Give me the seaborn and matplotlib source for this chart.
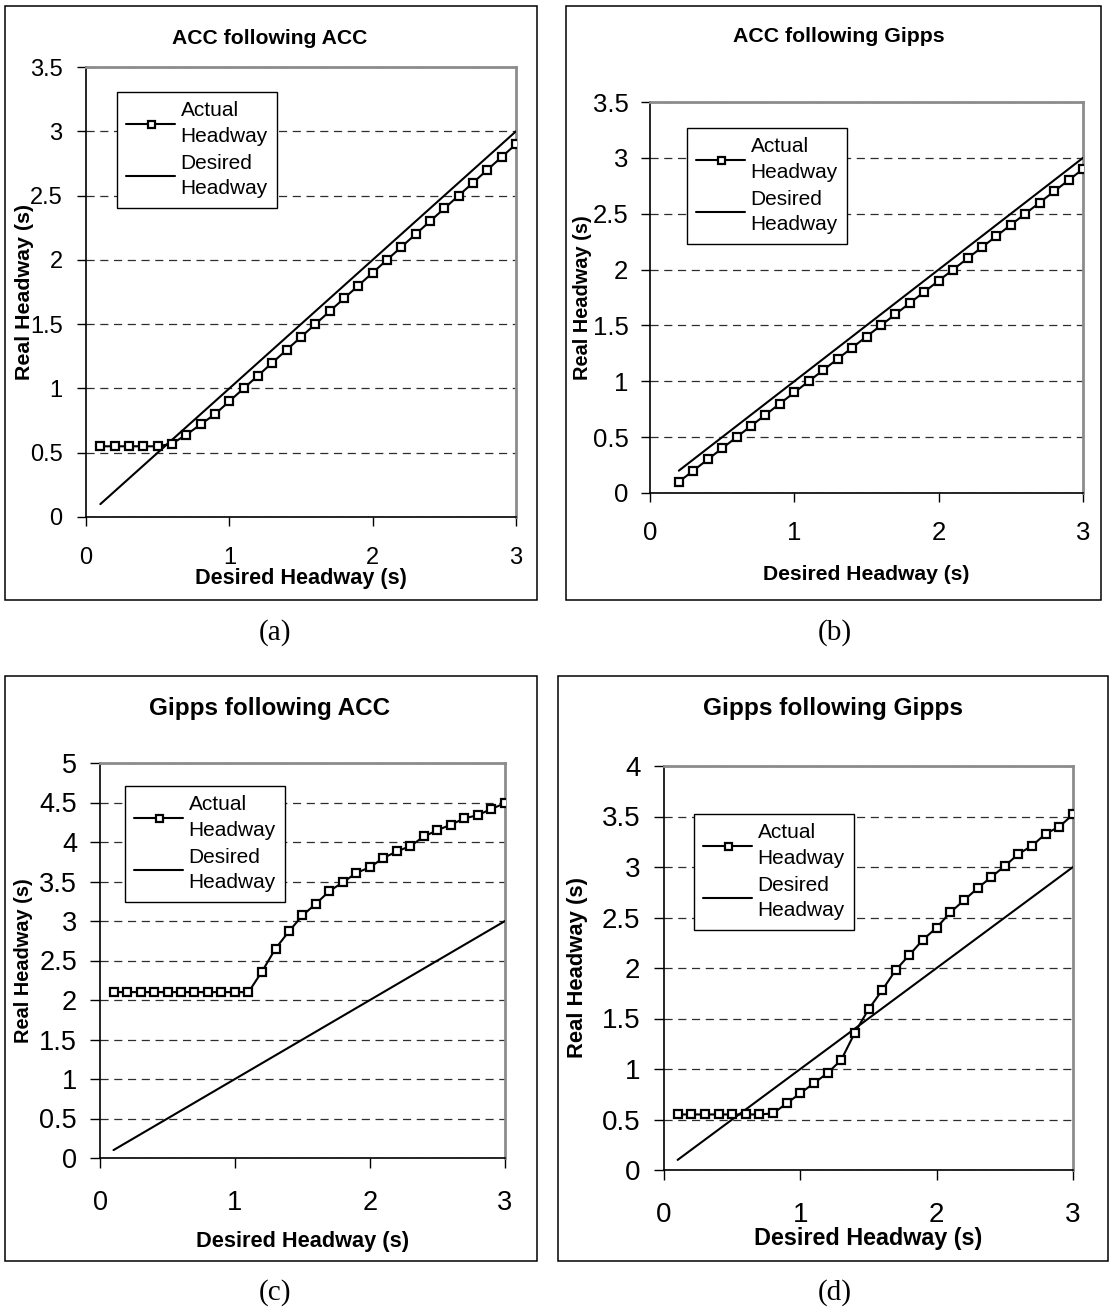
import matplotlib
matplotlib.use("Agg")
import matplotlib.pyplot as plt
import seaborn as sns
from matplotlib.patches import Rectangle

sns.set_theme(style="white")
plt.rcParams["font.family"] = ["Liberation Sans", "DejaVu Sans"]

# ---------------- data ----------------
x_steps_01 = [0.1, 0.2, 0.3, 0.4, 0.5, 0.6, 0.7, 0.8, 0.9, 1.0,
              1.1, 1.2, 1.3, 1.4, 1.5, 1.6, 1.7, 1.8, 1.9, 2.0,
              2.1, 2.2, 2.3, 2.4, 2.5, 2.6, 2.7, 2.8, 2.9, 3.0]
x_steps_02 = [0.2, 0.3, 0.4, 0.5, 0.6, 0.7, 0.8, 0.9, 1.0,
              1.1, 1.2, 1.3, 1.4, 1.5, 1.6, 1.7, 1.8, 1.9, 2.0,
              2.1, 2.2, 2.3, 2.4, 2.5, 2.6, 2.7, 2.8, 2.9, 3.0]

# (a) ACC following ACC
actual_a = [0.55, 0.55, 0.55, 0.55, 0.55, 0.57, 0.64, 0.72, 0.80, 0.90,
            1.00, 1.10, 1.20, 1.30, 1.40, 1.50, 1.60, 1.70, 1.80, 1.90,
            2.00, 2.10, 2.20, 2.30, 2.40, 2.50, 2.60, 2.70, 2.80, 2.90]
desired_x_a = [0.1, 3.0]
desired_a = [0.1, 3.0]

# (b) ACC following Gipps
actual_b = [0.10, 0.20, 0.30, 0.40, 0.50, 0.60, 0.70, 0.80, 0.90,
            1.00, 1.10, 1.20, 1.30, 1.40, 1.50, 1.60, 1.70, 1.80, 1.90,
            2.00, 2.10, 2.20, 2.30, 2.40, 2.50, 2.60, 2.70, 2.80, 2.90]
desired_x_b = [0.2, 3.0]
desired_b = [0.2, 3.0]

# (c) Gipps following ACC
actual_c = [2.10, 2.10, 2.10, 2.10, 2.10, 2.10, 2.10, 2.10, 2.10, 2.10,
            2.10, 2.36, 2.65, 2.87, 3.07, 3.22, 3.38, 3.49, 3.61, 3.68,
            3.80, 3.88, 3.95, 4.07, 4.15, 4.22, 4.30, 4.34, 4.42, 4.49]
desired_x_c = [0.1, 3.0]
desired_c = [0.1, 3.0]

# (d) Gipps following Gipps
actual_d = [0.55, 0.55, 0.55, 0.55, 0.55, 0.55, 0.55, 0.56, 0.66, 0.76,
            0.86, 0.96, 1.09, 1.36, 1.59, 1.78, 1.98, 2.13, 2.28, 2.40,
            2.55, 2.67, 2.79, 2.90, 3.01, 3.13, 3.21, 3.33, 3.40, 3.52]
desired_x_d = [0.1, 3.0]
desired_d = [0.1, 3.0]

titles = ["ACC following ACC", "ACC following Gipps",
          "Gipps following ACC", "Gipps following Gipps"]
panel_letters = ["(a)", "(b)", "(c)", "(d)"]
x_ticks = [0, 1, 2, 3]
x_tick_labels = ["0", "1", "2", "3"]
y_ticks_35 = [0, 0.5, 1, 1.5, 2, 2.5, 3, 3.5]
y_tick_labels_35 = ["0", "0.5", "1", "1.5", "2", "2.5", "3", "3.5"]
y_ticks_5 = [0, 0.5, 1, 1.5, 2, 2.5, 3, 3.5, 4, 4.5, 5]
y_tick_labels_5 = ["0", "0.5", "1", "1.5", "2", "2.5", "3", "3.5", "4", "4.5", "5"]
y_ticks_4 = [0, 0.5, 1, 1.5, 2, 2.5, 3, 3.5, 4]
y_tick_labels_4 = ["0", "0.5", "1", "1.5", "2", "2.5", "3", "3.5", "4"]
x_label = "Desired Headway (s)"
y_label = "Real Headway (s)"
legend_labels = ["Actual\nHeadway", "Desired\nHeadway"]

# ---------------- layout (pixels) ----------------
W, H = 1109, 1311
fig = plt.figure(figsize=(W / 100, H / 100), dpi=100)


def fx(px):
    return px / W


def fy(py):
    return 1 - py / H


panels = [
    dict(ax_px=(86, 67, 516, 517), box=(5, 6, 537, 600), title_xy=(270, 38), title_fs=15.2,
         letter_xy=(275, 633), tick_fs=17, xl_fs=15.6, yl_fs=15.4, tick_len=6.3, ypad=10.5, xpad=15,
         xl_y=579, yl_x=25, leg_xy=(117, 92),
         x=x_steps_01, act=actual_a, dx=desired_x_a, dy=desired_a,
         yt=y_ticks_35, ytl=y_tick_labels_35, ymax=3.5),
    dict(ax_px=(650, 102, 1083, 493), box=(566, 6, 1101, 600), title_xy=(839, 36), title_fs=15.3,
         letter_xy=(835, 633), tick_fs=18.5, xl_fs=15.2, yl_fs=14.4, tick_len=6.5, ypad=9.0, xpad=14,
         xl_y=575, yl_x=583, leg_xy=(687, 128),
         x=x_steps_02, act=actual_b, dx=desired_x_b, dy=desired_b,
         yt=y_ticks_35, ytl=y_tick_labels_35, ymax=3.5),
    dict(ax_px=(100, 763, 505, 1158), box=(5, 676, 537, 1261), title_xy=(270, 709), title_fs=17.5,
         letter_xy=(275, 1293), tick_fs=19.5, xl_fs=15.7, yl_fs=14.4, tick_len=7, ypad=9.5, xpad=16,
         xl_y=1242, yl_x=23, leg_xy=(125, 786),
         x=x_steps_01, act=actual_c, dx=desired_x_c, dy=desired_c,
         yt=y_ticks_5, ytl=y_tick_labels_5, ymax=5),
    dict(ax_px=(664, 766, 1073, 1170), box=(558, 676, 1108, 1261), title_xy=(833, 709), title_fs=17.6,
         letter_xy=(835, 1293), tick_fs=20, xl_fs=16.8, yl_fs=15.8, tick_len=7, ypad=10.0, xpad=16,
         xl_y=1238, yl_x=578, leg_xy=(694, 814),
         x=x_steps_01, act=actual_d, dx=desired_x_d, dy=desired_d,
         yt=y_ticks_4, ytl=y_tick_labels_4, ymax=4),
]

for i, p in enumerate(panels):
    l, t, r, b = p["ax_px"]
    ax = fig.add_axes([fx(l), fy(b), (r - l) / W, (b - t) / H])

    sns.lineplot(x=p["x"], y=p["act"], ax=ax, color="black", linewidth=1.5,
                 marker="s", markersize=6.3, markerfacecolor="white",
                 markeredgecolor="black", markeredgewidth=1.6,
                 label=legend_labels[0], zorder=4)
    sns.lineplot(x=p["dx"], y=p["dy"], ax=ax, color="black", linewidth=1.5,
                 label=legend_labels[1], zorder=3)

    ax.set_xlim(0, 3)
    ax.set_ylim(0, p["ymax"])
    ax.set_xticks(x_ticks)
    ax.set_xticklabels(x_tick_labels)
    ax.set_yticks(p["yt"])
    ax.set_yticklabels(p["ytl"])

    ax.set_axisbelow(True)
    ax.yaxis.grid(True, linestyle=(0, (6.5, 4.5)), color="#2e2e2e", linewidth=0.9)
    ax.xaxis.grid(False)

    for side in ["left", "bottom"]:
        ax.spines[side].set_color("black")
        ax.spines[side].set_linewidth(1.2)
    for side in ["top", "right"]:
        ax.spines[side].set_color("#8c8c8c")
        ax.spines[side].set_linewidth(2.0)
        ax.spines[side].set_visible(True)

    ax.tick_params(axis="both", which="major", direction="out", bottom=True, left=True,
                   top=False, right=False, length=p["tick_len"], width=1.0, color="black",
                   labelsize=p["tick_fs"], labelcolor="black")
    ax.tick_params(axis="y", pad=p["ypad"])
    ax.tick_params(axis="x", pad=p["xpad"])

    ax.set_xlabel(x_label, fontsize=p["xl_fs"], fontweight="bold", color="black")
    ax.set_ylabel(y_label, fontsize=p["yl_fs"], fontweight="bold", color="black")
    ax.xaxis.label.set_va("center")
    ax.yaxis.label.set_va("center")
    ax.xaxis.set_label_coords(0.5, (b - p["xl_y"]) / (b - t))
    ax.yaxis.set_label_coords((p["yl_x"] - l) / (r - l), 0.5)

    leg = ax.legend(loc="upper left",
                    bbox_to_anchor=(fx(p["leg_xy"][0]), fy(p["leg_xy"][1])),
                    bbox_transform=fig.transFigure, borderaxespad=0,
                    frameon=True, fancybox=False, shadow=False, framealpha=1,
                    edgecolor="black", facecolor="white", fontsize=15,
                    handlelength=2.35, handletextpad=0.25, borderpad=0.45,
                    labelspacing=0.4, numpoints=1, markerscale=0.8)
    leg.get_frame().set_linewidth(1.0)
    leg.set_zorder(10)
    for txt in leg.get_texts():
        txt.set_color("black")
        txt.set_linespacing(1.42)

    fig.text(fx(p["title_xy"][0]), fy(p["title_xy"][1]), titles[i],
             ha="center", va="center", fontsize=p["title_fs"], fontweight="bold",
             color="black")
    fig.text(fx(p["letter_xy"][0]), fy(p["letter_xy"][1]), panel_letters[i],
             ha="center", va="center", fontsize=21, family="Liberation Serif",
             color="black")

    bx0, by0, bx1, by1 = p["box"]
    fig.add_artist(Rectangle((fx(bx0), fy(by1)), (bx1 - bx0) / W, (by1 - by0) / H,
                             transform=fig.transFigure, fill=False,
                             edgecolor="black", linewidth=1.1))

fig.savefig("out.png", dpi=100, facecolor="white")
